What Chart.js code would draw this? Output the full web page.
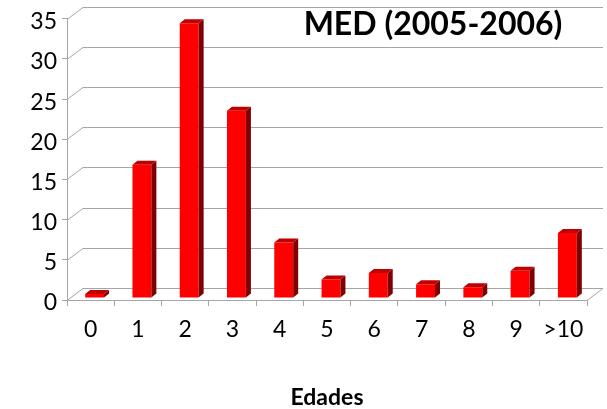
<!DOCTYPE html>
<html>
<head>
<meta charset="utf-8">
<script src="https://cdn.jsdelivr.net/npm/chart.js@4/dist/chart.umd.min.js"></script>
<style>
html, body { margin: 0; padding: 0; background: #fff; }
canvas { display: block; }
</style>
</head>
<body>
<canvas id="c" width="607" height="409"></canvas>
<script>
const categories = ['0', '1', '2', '3', '4', '5', '6', '7', '8', '9', '>10']
const counts = [0.5, 16.6, 34.2, 23.3, 6.9, 2.3, 3.1, 1.7, 1.35, 3.4, 8.1]
const yMin = 0
const yMax = 35
const yStep = 5
const chartTitle = 'MED (2005-2006)'
const xTitle = 'Edades'

const RED = '#ff0000'
const RED_SIDE = '#7f0000'
const RED_TOP = '#c00000'
const GRID = '#a6a6a6'
const FONT = 'Lato, Carlito, Calibri, sans-serif'

// depth of back wall and bars (fake 3d like Excel)
const WALL = { dx: 16, dy: -12 }
const BAR = { x: 4, y: -2, dx: 5, dy: -4 }

const wall3d = {
  id: 'wall3d',
  beforeDatasetsDraw(chart) {
    const { ctx, chartArea: a, scales: { y } } = chart
    ctx.save()
    ctx.strokeStyle = GRID
    ctx.lineWidth = 1
    ctx.beginPath()
    y.ticks.forEach(t => {
      const py = Math.round(y.getPixelForValue(t.value)) + 0.5
      ctx.moveTo(a.left, py)
      ctx.lineTo(a.left + WALL.dx, py + WALL.dy)
      ctx.lineTo(a.right + WALL.dx, py + WALL.dy)
    })
    const py0 = Math.round(y.getPixelForValue(yMin)) + 0.5
    ctx.moveTo(a.right, py0)
    ctx.lineTo(a.right + WALL.dx, py0 + WALL.dy)
    ctx.stroke()
    ctx.restore()

    ctx.save()
    ctx.translate(BAR.x, BAR.y)
  },
  afterDatasetsDraw(chart) {
    const ctx = chart.ctx
    chart.getDatasetMeta(0).data.forEach(bar => {
      const { x, y, base, width } = bar.getProps(['x', 'y', 'base', 'width'], true)
      const l = x - width / 2
      const r = x + width / 2
      ctx.fillStyle = RED_SIDE
      ctx.beginPath()
      ctx.moveTo(r, y)
      ctx.lineTo(r + BAR.dx, y + BAR.dy)
      ctx.lineTo(r + BAR.dx, base + BAR.dy)
      ctx.lineTo(r, base)
      ctx.closePath()
      ctx.fill()
      ctx.fillStyle = RED_TOP
      ctx.beginPath()
      ctx.moveTo(l, y)
      ctx.lineTo(l + BAR.dx, y + BAR.dy)
      ctx.lineTo(r + BAR.dx, y + BAR.dy)
      ctx.lineTo(r, y)
      ctx.closePath()
      ctx.fill()
    })
    ctx.restore()
  },
  afterDraw(chart) {
    const ctx = chart.ctx
    ctx.save()
    ctx.fillStyle = '#000'
    ctx.font = `bold 32px ${FONT}`
    ctx.textAlign = 'center'
    ctx.textBaseline = 'middle'
    ctx.fillText(chartTitle, 433, 25)
    ctx.restore()
  },
}

new Chart(document.getElementById('c'), {
  type: 'bar',
  data: {
    labels: categories,
    datasets: [{
      data: counts,
      backgroundColor: RED,
      barPercentage: 0.4,
      categoryPercentage: 1,
    }],
  },
  options: {
    responsive: false,
    animation: false,
    layout: { padding: { top: 15, right: 20, left: 0, bottom: 0 } },
    plugins: {
      legend: { display: false },
      tooltip: { enabled: false },
      title: { display: false },
    },
    scales: {
      x: {
        grid: { offset: true, drawOnChartArea: false, tickLength: 6, color: GRID },
        border: { color: GRID },
        ticks: { color: '#000', font: { family: FONT, size: 23 }, padding: 10, maxRotation: 0 },
        title: {
          display: true, text: xTitle, color: '#000',
          font: { family: FONT, size: 23, weight: 'bold', lineHeight: 1 },
          padding: { top: 0, bottom: 0 },
        },
        afterFit: s => { s.height = 109 },
      },
      y: {
        min: yMin,
        max: yMax,
        grid: { drawOnChartArea: false, tickLength: 5, color: GRID },
        border: { color: GRID },
        ticks: { stepSize: yStep, color: '#000', font: { family: FONT, size: 23 }, padding: 5, labelOffset: 3 },
        afterFit: s => { s.width = 67 },
      },
    },
  },
  plugins: [wall3d],
})
</script>
</body>
</html>
